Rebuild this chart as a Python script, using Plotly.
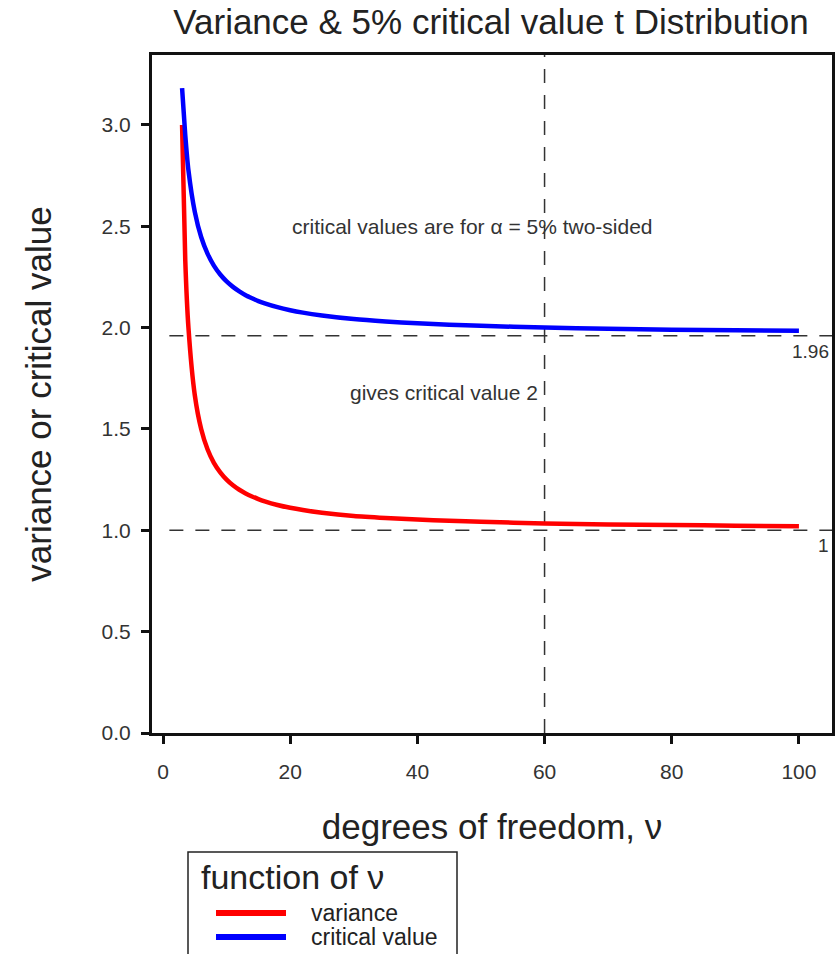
import plotly.graph_objects as go

# Degrees of freedom and the two quantities plotted against them
nu = [3, 3.5, 4, 5, 6, 7, 8, 9, 10, 11, 12, 13, 14, 15, 16, 18, 20, 22, 25,
      30, 35, 40, 45, 50, 60, 70, 80, 90, 100]
variance = [3.000, 2.333, 2.000, 1.667, 1.500, 1.400, 1.333, 1.286, 1.250, 1.222,
            1.200, 1.182, 1.167, 1.154, 1.143, 1.125, 1.111, 1.100, 1.087,
            1.071, 1.061, 1.053, 1.047, 1.042, 1.034, 1.029, 1.026, 1.023, 1.020]
critical = [3.182, 2.950, 2.776, 2.571, 2.447, 2.365, 2.306, 2.262, 2.228, 2.201,
            2.179, 2.160, 2.145, 2.131, 2.120, 2.101, 2.086, 2.074, 2.060,
            2.042, 2.030, 2.021, 2.014, 2.009, 2.000, 1.994, 1.990, 1.987, 1.984]

series_names = ["variance", "critical value"]
series_colors = ["#ff0000", "#0000ff"]

# Reference levels
normal_crit = 1.96
normal_var = 1.0
nu_marker = 60

x_ticks = [0, 20, 40, 60, 80, 100]
y_ticks = [0.0, 0.5, 1.0, 1.5, 2.0, 2.5, 3.0]

FONT = "Liberation Sans, Arial, sans-serif"
TEXT = "#222222"
x_range = [-1.73, 105.2]
y_range = [0, 3.345]

W, H = 835, 954
M = dict(l=152, r=3, t=55, b=221)
PW = W - M["l"] - M["r"]
PH = H - M["t"] - M["b"]


def px(xp):
    """Horizontal pixel position -> paper fraction."""
    return (xp - M["l"]) / PW


def py(yp):
    """Vertical pixel position (from top) -> paper fraction."""
    return (H - M["b"] - yp) / PH


fig = go.Figure()
for yv, name, color in zip([variance, critical], series_names, series_colors):
    fig.add_trace(go.Scatter(x=nu, y=yv, mode="lines", name=name, showlegend=False,
                             line=dict(color=color, width=4.5, shape="spline", smoothing=0.6)))

dash_line = dict(color="#333333", width=1.5, dash="14px,12px")
for level in (normal_crit, normal_var):
    fig.add_shape(type="line", xref="x", yref="y", x0=1, x1=x_range[1],
                  y0=level, y1=level, line=dash_line, layer="below")
fig.add_shape(type="line", xref="x", yref="paper", x0=nu_marker, x1=nu_marker,
              y0=0, y1=1, line=dash_line, layer="below")

# Labels for the reference levels at the right edge
for level, label in ((normal_crit, "1.96"), (normal_var, "1")):
    fig.add_annotation(x=105.0, y=level, xref="x", yref="y", text=label,
                       showarrow=False, xanchor="right", yanchor="top", yshift=-3,
                       font=dict(family=FONT, size=19, color="#333333"))

fig.add_annotation(x=48.6, y=2.50, xref="x", yref="y",
                   text="critical values are for α = 5% two-sided",
                   showarrow=False, xanchor="center", yanchor="middle",
                   font=dict(family=FONT, size=21, color="#333333"))
fig.add_annotation(x=59.3, y=1.68, xref="x", yref="y",
                   text="gives critical value 2",
                   showarrow=False, xanchor="right", yanchor="middle",
                   font=dict(family=FONT, size=21, color="#333333"))

# Legend box below the plot
fig.add_shape(type="rect", xref="paper", yref="paper", x0=px(188), x1=px(457),
              y0=py(852), y1=py(970), line=dict(color=TEXT, width=1.5),
              fillcolor="white")
fig.add_annotation(x=px(199), y=py(877), xref="paper", yref="paper",
                   text="function of ν", showarrow=False, xanchor="left",
                   yanchor="middle", font=dict(family=FONT, size=34, color=TEXT))
for i, (name, color) in enumerate(zip(series_names, series_colors)):
    yrow = 913 + 24 * i
    fig.add_shape(type="line", xref="paper", yref="paper", x0=px(216), x1=px(286),
                  y0=py(yrow), y1=py(yrow), line=dict(color=color, width=6))
    fig.add_annotation(x=px(309), y=py(yrow), xref="paper", yref="paper",
                       text=name, showarrow=False, xanchor="left", yanchor="middle",
                       font=dict(family=FONT, size=23, color=TEXT))

fig.update_layout(
    width=W, height=H,
    margin=dict(**M, autoexpand=False),
    paper_bgcolor="white", plot_bgcolor="white",
    font=dict(family=FONT, color=TEXT),
    title=dict(text="Variance & 5% critical value t Distribution",
               x=491 / W, xanchor="center", y=1 - 22 / H, yanchor="middle",
               font=dict(family=FONT, size=35, color=TEXT)),
    showlegend=False,
)
fig.update_xaxes(range=x_range, tickvals=x_ticks, ticks="outside", ticklen=8, tickwidth=3,
                 tickcolor="#111111", showline=True, linewidth=3, linecolor="#111111",
                 mirror=True, showgrid=False, zeroline=False, ticklabelstandoff=10,
                 tickfont=dict(family=FONT, size=21, color="#333333"),
                 title=dict(text="degrees of freedom, ν", standoff=33,
                            font=dict(family=FONT, size=35, color=TEXT)))
fig.update_yaxes(range=y_range, tickvals=y_ticks, tickformat=".1f", ticks="outside",
                 ticklen=8, tickwidth=3, tickcolor="#111111", showline=True, linewidth=3,
                 linecolor="#111111", mirror=True, showgrid=False, zeroline=False,
                 ticklabelstandoff=6,
                 tickfont=dict(family=FONT, size=21, color="#333333"),
                 title=dict(text="variance or critical value", standoff=40,
                            font=dict(family=FONT, size=35, color=TEXT)))

fig.write_html("out.html")
